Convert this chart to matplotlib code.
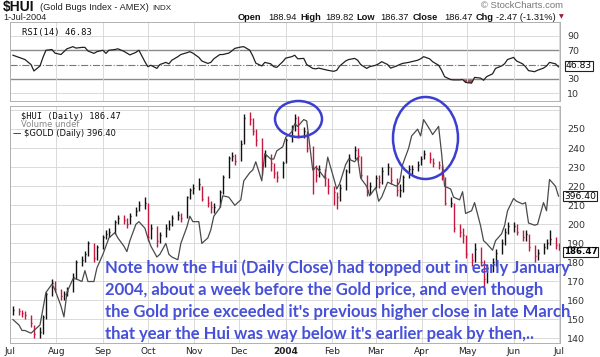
import numpy as np
import pandas as pd
import matplotlib
matplotlib.use("Agg")
import matplotlib.pyplot as plt
import matplotlib.dates as mdates
from matplotlib.patches import Ellipse

# every second trading day, Jul 2003 .. 1 Jul 2004
dates = pd.bdate_range("2003-07-02", "2004-07-01")[::-1][::2][::-1]

hui_hi = [157, 156, 155, 154, 152, 147, 146, 152, 164, 171, 170, 166, 165, 167, 174, 181, 183, 186, 191, 190,
          189, 194, 197, 198, 202, 205, 205, 203, 206, 209, 212, 214, 211, 200, 199, 196, 200, 202, 205, 207,
          206, 215, 219, 221, 224, 220, 215, 212, 211, 218, 226, 236, 238, 237, 244, 258, 259, 256, 250, 245,
          239, 237, 232, 228, 233, 245, 252, 258, 257, 251, 249, 241, 231, 231, 229, 224, 220, 217, 221, 229,
          237, 241, 240, 236, 226, 222, 226, 226, 230, 232, 230, 224, 221, 226, 231, 231, 233, 236, 239, 238,
          235, 233, 231, 225, 214, 211, 200, 198, 194, 185, 190, 188, 181, 179, 182, 187, 192, 198, 201, 201,
          200, 197, 197, 195, 189, 187, 190, 192, 197, 193, 190]
hui_lo = [152, 152, 151, 150, 146, 140, 140, 142, 150, 162, 164, 160, 160, 162, 164, 171, 178, 180, 183, 180,
          181, 187, 192, 193, 195, 200, 200, 198, 200, 204, 207, 208, 191, 192, 188, 190, 193, 197, 199, 202,
          201, 203, 213, 216, 218, 212, 209, 206, 206, 209, 216, 224, 233, 231, 233, 242, 252, 247, 241, 226,
          230, 228, 224, 222, 224, 232, 243, 249, 245, 245, 238, 216, 222, 225, 220, 216, 210, 208, 212, 218,
          227, 234, 233, 224, 215, 216, 219, 219, 221, 226, 221, 215, 214, 217, 224, 226, 228, 231, 234, 232,
          230, 229, 223, 210, 209, 196, 193, 190, 182, 178, 180, 178, 167, 169, 175, 178, 184, 189, 195, 196,
          194, 191, 191, 186, 180, 181, 184, 187, 189, 187, 186.37]
hui_close = [155, 154, 153, 152, 148, 142, 143, 151, 163, 169, 166, 162, 163, 165, 172, 180, 181, 184, 190, 182,
             188, 193, 195, 196, 201, 203, 202, 200, 204, 207, 210, 211, 193, 198, 191, 194, 198, 200, 203, 205,
             203, 214, 218, 219, 221, 213, 211, 209, 209, 217, 225, 235, 236, 233, 242, 256, 255, 249, 244, 232,
             236, 232, 227, 225, 232, 244, 250, 256, 247, 249, 240, 229, 226, 229, 224, 220, 217, 214, 219, 228,
             235, 239, 236, 226, 218, 220, 224, 222, 228, 230, 223, 218, 218, 225, 229, 229, 231, 234, 237, 234,
             232, 231, 225, 211, 211, 198, 196, 194, 184, 181, 187, 180, 171, 177, 180, 185, 190, 196, 199, 199,
             196, 193, 195, 188, 183, 185, 188, 190, 192, 189, 186.47]
gold = [351, 349, 347, 347, 346, 347, 349, 355, 361, 364, 362, 356, 352, 361, 366, 366, 365, 369, 365, 365,
        370, 375, 378, 381, 383, 381, 378, 376, 380, 386, 387, 384.6, 381, 378, 374, 375, 379, 375, 374, 373,
        379, 385, 389, 387, 387, 379, 381, 384, 389, 392, 396.5, 396, 394.5, 393, 395, 402, 405, 406, 409, 402,
        412, 410, 410, 413, 414.5, 418, 420, 423, 422, 424.5, 424, 406, 407, 406, 403, 410.7, 403, 399, 401, 408,
        410, 409, 410.5, 403, 400, 396.5, 399.5, 394.5, 396, 401.5, 401, 400, 401.5, 408, 414, 418.5, 421, 418.5, 424.5, 421,
        419, 422, 412, 400, 399, 396, 395, 398, 390, 391, 394, 385.5, 380, 379, 376.5, 380, 382.5, 385.5, 391, 395.5,
        394.5, 393.5, 394, 386.5, 385.7, 386, 394, 391, 402.5, 400, 396.40]
rsi = [63, 60, 58.6, 57, 50, 41, 48, 60, 70, 71, 66, 64, 68, 72, 75, 73, 74, 74, 69, 65.6,
       68, 70, 65.6, 70, 71, 72, 68.5, 66, 63.5, 67, 70, 54, 47, 49, 44.6, 50, 53, 51, 56, 61,
       64, 66.5, 68, 66, 60, 55, 51.6, 53, 58, 64, 64, 66, 69, 72.6, 74.5, 75, 70, 62, 52, 48,
       53, 51, 47, 46, 54, 59, 61, 63, 58, 58.6, 50, 44.6, 44, 45, 43, 42, 40.5, 42, 48, 55,
       57, 58.6, 56, 50, 44.6, 47, 49, 51, 54, 50, 45, 48, 50, 51.6, 53, 54, 56, 58, 61, 58,
       54, 49, 42, 33, 29, 28.5, 28.5, 29, 25, 24, 32, 31, 28, 33, 37, 44.6, 48, 51, 57, 60,
       55, 51, 47, 41.5, 40, 42, 45, 48, 53, 51, 46.83]

month_ticks = pd.date_range("2003-07-01", "2004-07-01", freq="MS")
month_labels = ["Jul", "Aug", "Sep", "Oct", "Nov", "Dec", "2004", "Feb", "Mar", "Apr", "May", "Jun", "Jul"]
hui_ticks = list(range(140, 260, 10))
rsi_ticks = [10, 30, 70, 90]

note_lines = ["Note how the Hui (Daily Close) had topped out in early January",
              "2004, about a week before the Gold price, and even though",
              "the Gold price exceeded it's previous higher close in late March",
              "that year the Hui was way below it's earlier peak by then,.."]

W, H = 600, 357
def px(x, y):
    return x / W, 1 - y / H

fig = plt.figure(figsize=(6, 3.57), dpi=100)
fig.patch.set_facecolor("white")
grid_c = "#d4d4d4"
sans = "Liberation Sans"
xlim = (pd.Timestamp("2003-07-01"), pd.Timestamp("2004-07-02"))

# --- RSI panel
ax_r = fig.add_axes([10 / W, 1 - 101 / H, 550 / W, 79 / H])
ax_r.set_xlim(xlim)
ax_r.set_ylim(-1, 109.5)
for v in [10, 90]:
    ax_r.axhline(v, color=grid_c, lw=0.6)
for v in [30, 70]:
    ax_r.axhline(v, color="#8a8a8a", lw=1.0)
ax_r.axhline(50, color="#777777", lw=0.8, ls="-.")
for d in month_ticks:
    ax_r.axvline(d, color=grid_c, lw=0.6)
r = np.array(rsi)
ax_r.fill_between(dates, r, 30, where=r < 30, interpolate=True, color="#a0525a", lw=0)
ax_r.plot(dates, r, color="#222222", lw=0.9)
ax_r.yaxis.tick_right()
ax_r.set_yticks(rsi_ticks)
ax_r.set_yticklabels([str(t) for t in rsi_ticks], fontsize=6.8, color="#333333")
ax_r.tick_params(axis="y", length=0, pad=5)
ax_r.set_xticks([])
for s in ax_r.spines.values():
    s.set_color("#b0b0b0")
    s.set_linewidth(0.7)
ax_r.text(0.022, 0.93, "RSI(14) 46.83", transform=ax_r.transAxes, fontsize=6.4,
          family="DejaVu Sans Mono", va="top", ha="left", color="#111111")

# --- price panel
ax = fig.add_axes([10 / W, 1 - 343 / H, 550 / W, 237 / H])
ax.set_xlim(xlim)
ax.set_ylim(137.4, 262.1)
for v in hui_ticks + [260]:
    ax.axhline(v, color=grid_c, lw=0.6, zorder=0)
for d in month_ticks:
    ax.axvline(d, color=grid_c, lw=0.6, zorder=0)

gax = ax.twinx()
gax.set_ylim(342.4, 429.5)
gax.set_axis_off()
gax.plot(dates, gold, color="#4a4a4a", lw=0.9)

c = np.array(hui_close)
colors = ["#111111"] + ["#c8173f" if c[i] < c[i - 1] else "#111111" for i in range(1, len(c))]
ax.vlines(dates, hui_lo, hui_hi, colors=colors, lw=1.0, zorder=3)
dn = mdates.date2num(dates)
ax.hlines(c, dn, dn + 1.0, colors=colors, lw=1.0, zorder=3)

ax.yaxis.tick_right()
ax.set_yticks(hui_ticks)
ax.set_yticklabels([str(t) for t in hui_ticks], fontsize=6.8, color="#333333")
ax.tick_params(axis="y", length=0, pad=5)
ax.set_xticks(month_ticks)
ax.set_xticklabels(month_labels, fontsize=6.5, color="#222222")
ax.get_xticklabels()[6].set_fontweight("bold")
ax.tick_params(axis="x", length=0, pad=3)
for s in ax.spines.values():
    s.set_color("#b0b0b0")
    s.set_linewidth(0.7)

ax.text(0.02, 0.975, "$HUI (Daily) 186.47", transform=ax.transAxes, fontsize=6.3,
        family="DejaVu Sans Mono", va="top", color="#111111")
ax.text(0.02, 0.94, "Volume undef", transform=ax.transAxes, fontsize=6.0, va="top", color="#888888")
ax.text(0.005, 0.905, "\u2014 $GOLD (Daily) 396.40", transform=ax.transAxes, fontsize=6.0, va="top", color="#111111")

# value boxes on the right
box = dict(boxstyle="square,pad=0.08", fc="white", ec="#222222", lw=0.8)
fig.text(*px(566, 66), "46.83", fontsize=6.6, va="center", ha="left", bbox=box)
fig.text(*px(564, 196), "396.40", fontsize=6.6, va="center", ha="left", bbox=box)
fig.text(*px(564, 252), "186.47", fontsize=6.2, va="center", ha="left", fontweight="bold", bbox=box)

# header
fig.text(*px(3, 7.5), "$HUI", fontsize=10, family=sans, fontweight="bold", va="center", color="#111111")
fig.text(*px(40, 8), "(Gold Bugs Index - AMEX)", fontsize=6.7, family=sans, va="center", color="#222222")
fig.text(*px(152, 8), "INDX", fontsize=5.8, family=sans, va="center", color="#222222")
fig.text(*px(3, 17.5), "1-Jul-2004", fontsize=6.6, family=sans, va="center", color="#222222")
fig.text(*px(563, 6), "\u00a9 StockCharts.com", fontsize=6.8, family=sans, va="center", ha="right", color="#777777")
hdr = [(238, "Open", True), (268, "188.94", False), (300, "High", True), (325, "189.82", False),
       (356, "Low", True), (380, "186.37", False), (413, "Close", True), (444, "186.47", False),
       (476, "Chg", True), (496, "-2.47 (-1.31%)", False)]
for x, t, b in hdr:
    fig.text(*px(x, 17), t, fontsize=6.7, family=sans, va="center",
             fontweight="bold" if b else "normal", color="#111111")
fig.text(*px(559, 17), "\u25bc", fontsize=4.5, va="center", color="#9b1b30")

# annotation
blue = "#3a3fd0"
fig.add_artist(Ellipse(px(298.5, 119), 47 / W, 36 / H, transform=fig.transFigure,
                       fill=False, ec=blue, lw=1.8))
fig.add_artist(Ellipse(px(425.5, 138), 65 / W, 82 / H, transform=fig.transFigure,
                       fill=False, ec=blue, lw=1.8))
for k, line in enumerate(note_lines):
    fig.text(*px(105, 268 + 22 * k), line, fontsize=12, family="Lato", fontweight="bold",
             color="#4650d8", va="center", ha="left")

fig.savefig("out.png", dpi=100)
